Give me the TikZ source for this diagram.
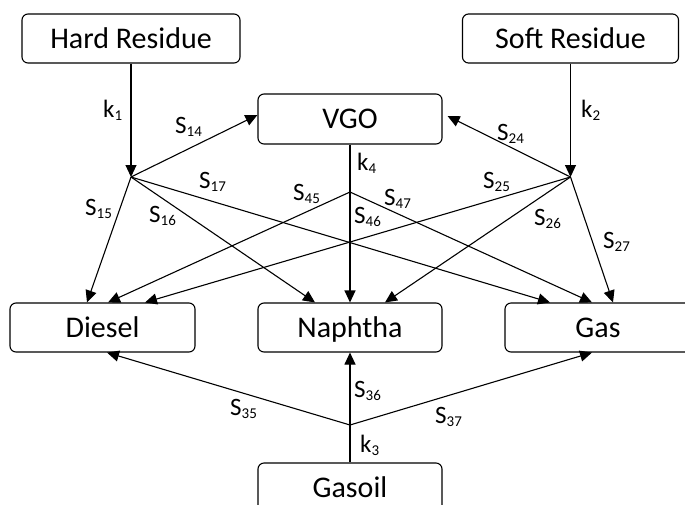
\documentclass[tikz,border=0pt]{standalone}
\usepackage{fontspec}
\setmainfont{Carlito}
\usetikzlibrary{arrows.meta}
\newcommand\lbl[2]{#1\raisebox{-3pt}{\fontsize{15}{15}\selectfont #2}}
\begin{document}
\begin{tikzpicture}[x=1pt,y=-1pt,
  box/.style={draw,line width=1.1pt,rounded corners=6pt,inner sep=0pt,
    text height=22pt,text depth=3pt,font=\fontsize{30}{32}\selectfont,
    minimum height=49pt},
  arr/.style={line width=1.1pt,-{Triangle[length=12pt,width=11pt]}},
  ln/.style={line width=1.1pt},
  lab/.style={anchor=base west,inner sep=0pt,font=\fontsize{25}{27}\selectfont}]
\useasboundingbox (0,0) rectangle (685,504);
\clip (0,0) rectangle (685,504);
% boxes
\node[box,minimum width=218pt] (hard) at (131,38.5) {Hard Residue};
\node[box,minimum width=216pt] (soft) at (570.5,38.5) {Soft Residue};
\node[box,minimum width=184pt,minimum height=50pt] (vgo) at (350,119) {VGO};
\node[box,minimum width=185pt] (diesel) at (102.5,327.5) {Diesel};
\node[box,minimum width=184pt] (naph) at (350,327.5) {Naphtha};
\node[box,minimum width=186pt] (gas) at (598,327.5) {Gas};
\node[box,minimum width=184pt] (gasoil) at (350,487.5) {Gasoil};
% hubs
\coordinate (h1) at (131,177);
\coordinate (h2) at (570.5,177);
\coordinate (h4) at (350,192);
\coordinate (h3) at (350,425);
% targets
\coordinate (v1) at ([yshift=4pt]vgo.west);
\coordinate (v2) at ([xshift=5pt,yshift=3pt]vgo.east);
\coordinate (d1) at ([xshift=-15.5pt]diesel.north);
\coordinate (d4) at ([xshift=5.5pt]diesel.north);
\coordinate (d2) at ([xshift=42.5pt]diesel.north);
\coordinate (d3) at ([xshift=4.5pt]diesel.south);
\coordinate (n1) at ([xshift=-35pt]naph.north);
\coordinate (n2) at ([xshift=35pt]naph.north);
\coordinate (g1) at ([xshift=-48pt]gas.north);
\coordinate (g4) at ([xshift=-6pt]gas.north);
\coordinate (g2) at ([xshift=15pt]gas.north);
\coordinate (g3) at ([xshift=-6pt]gas.south);
% connectors
\draw[arr] (hard.south) -- (h1);
\draw[arr] (soft.south) -- (h2);
\draw[arr] (h1) -- (v1);
\draw[arr] (h2) -- (v2);
\draw[arr] (h1) -- (d1);
\draw[arr] (h1) -- (n1);
\draw[arr] (h1) -- (g1);
\draw[arr] (h2) -- (d2);
\draw[arr] (h2) -- (n2);
\draw[arr] (h2) -- (g2);
\draw[ln] (vgo.south) -- (h4);
\draw[arr] (h4) -- (d4);
\draw[arr] (h4) -- (naph.north);
\draw[arr] (h4) -- (g4);
\draw[ln] (gasoil.north) -- (h3);
\draw[arr] (h3) -- (d3);
\draw[arr] (h3) -- (naph.south);
\draw[arr] (h3) -- (g3);
% labels
\node[lab] (lk1) at (103,117) {\lbl{k}{1}};
\node[lab] (lk2) at (581,117) {\lbl{k}{2}};
\node[lab] (lk3) at (360,452) {\lbl{k}{3}};
\node[lab] (lk4) at (357,170) {\lbl{k}{4}};
\node[lab] (l14) at (175,133) {\lbl{S}{14}};
\node[lab] (l15) at (85,215) {\lbl{S}{15}};
\node[lab] (l16) at (149,222) {\lbl{S}{16}};
\node[lab] (l17) at (199,188) {\lbl{S}{17}};
\node[lab] (l24) at (497,140) {\lbl{S}{24}};
\node[lab] (l25) at (483,188) {\lbl{S}{25}};
\node[lab] (l26) at (534,225) {\lbl{S}{26}};
\node[lab] (l27) at (603,248) {\lbl{S}{27}};
\node[lab] (l45) at (293,200) {\lbl{S}{45}};
\node[lab] (l46) at (354,223) {\lbl{S}{46}};
\node[lab] (l47) at (384,205) {\lbl{S}{47}};
\node[lab] (l35) at (230,415) {\lbl{S}{35}};
\node[lab] (l36) at (354,397) {\lbl{S}{36}};
\node[lab] (l37) at (435,423) {\lbl{S}{37}};
\end{tikzpicture}
\end{document}
